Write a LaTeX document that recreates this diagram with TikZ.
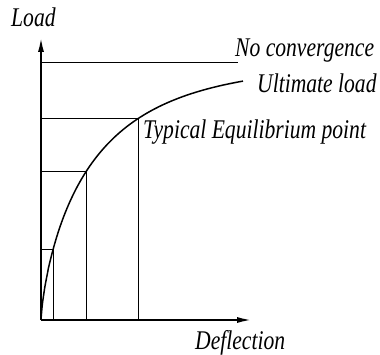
\documentclass[tikz,border=0pt]{standalone}
\usepackage{fontspec}
\setmainfont{Liberation Serif}[FakeStretch=0.8]
\usetikzlibrary{arrows.meta}
\begin{document}
\begin{tikzpicture}[x=1pt,y=1pt,
  declare function={ld(\d)=257*(1-exp(-(\d/55)^0.75));},
  axis/.style={line width=2pt,-{Latex[length=15pt,width=6pt]}},
  curve/.style={line width=1.5pt},
  guide/.style={line width=0.8pt},
  lbl/.style={anchor=base west,inner sep=0pt,font=\fontsize{27}{30}\selectfont\itshape}]
\useasboundingbox (0,0) rectangle (380,354);
% key points
\coordinate (O) at (41,34);
\coordinate (Ytop) at (41,317);
\coordinate (Xend) at (252,34);
\coordinate (P1) at (53,{34+ld(12)});
\coordinate (P2) at (86,{34+ld(45)});
\coordinate (P3) at (138,{34+ld(97)});
\coordinate (Y1) at (O |- P1);
\coordinate (Y2) at (O |- P2);
\coordinate (Y3) at (O |- P3);
\coordinate (X1) at (P1 |- O);
\coordinate (X2) at (P2 |- O);
\coordinate (X3) at (P3 |- O);
\coordinate (NC0) at (41,292);
\coordinate (NC1) at (238,292);
% guide lines
\draw[guide] (NC0) -- (NC1);
\draw[guide] (Y1) -- (P1) -- (X1);
\draw[guide] (Y2) -- (P2) -- (X2);
\draw[guide] (Y3) -- (P3) -- (X3);
% curve
\draw[curve] plot[domain=0.02:202,samples=220,smooth] ({41+\x},{34+ld(\x)});
% axes
\draw[axis] (O) -- (Ytop);
\draw[axis] (O) -- (Xend);
% labels
\node[lbl] (load) at (11,327) {Load};
\node[lbl] (nc) at (235,297) {No convergence};
\node[lbl] (ult) at (257,261) {Ultimate load};
\node[lbl] (typ) at (143,215) {Typical Equilibrium point};
\node[lbl] (defl) at (195,5) {Deflection};
\end{tikzpicture}
\end{document}
